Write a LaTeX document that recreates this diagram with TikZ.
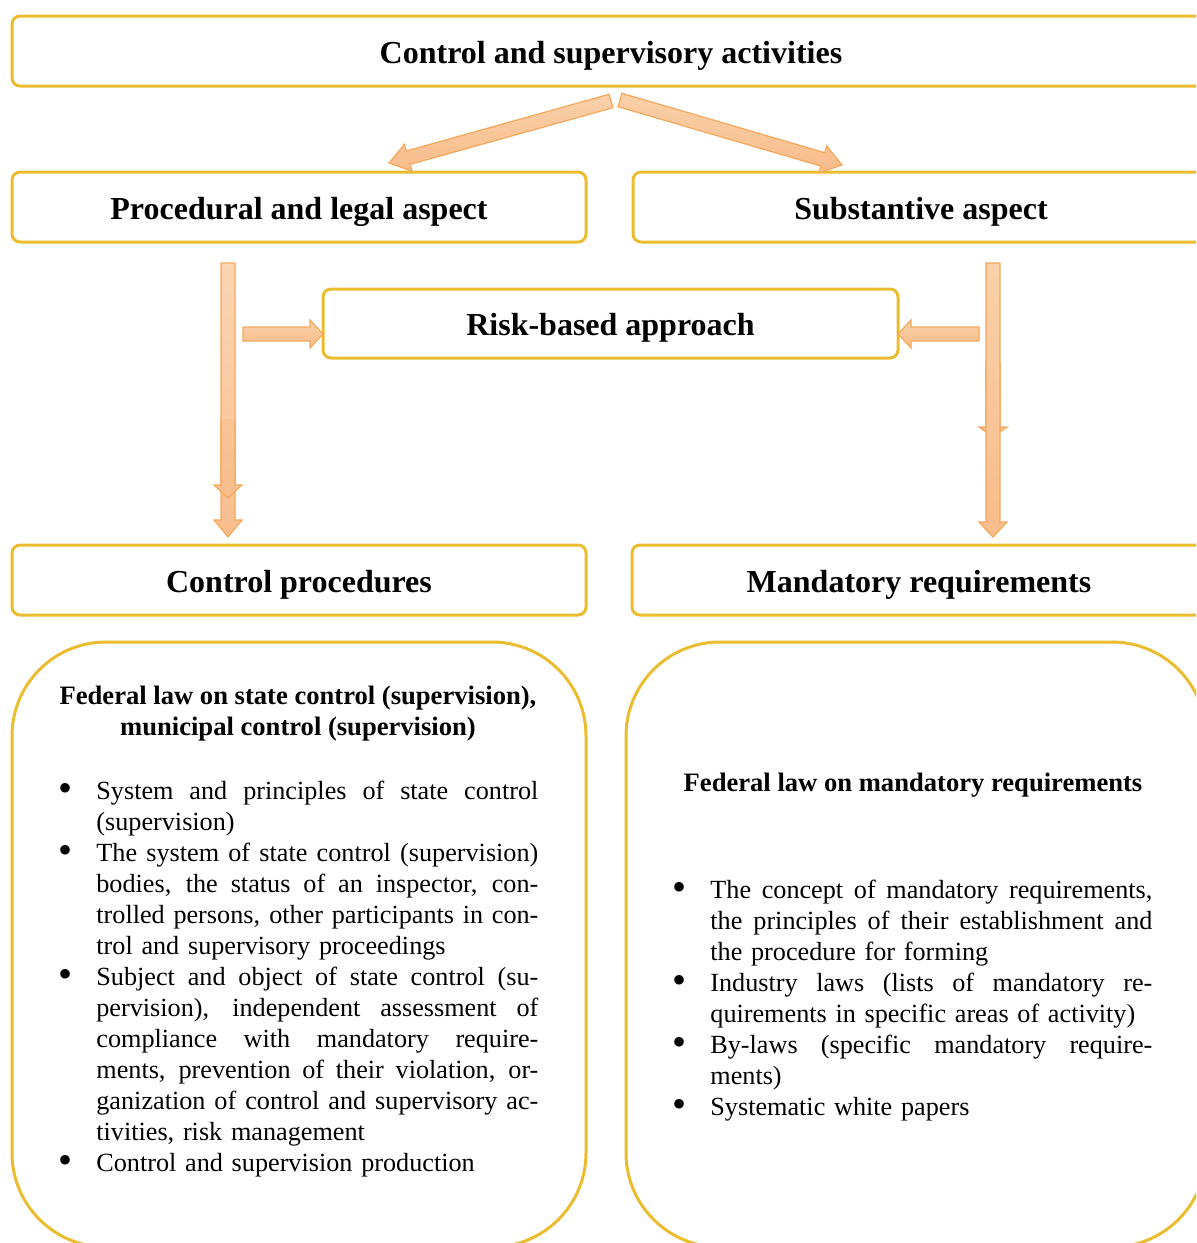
\documentclass[tikz,border=0pt]{standalone}
\usepackage{fontspec}
\setmainfont{Liberation Serif}
\usetikzlibrary{calc}
\definecolor{boxgold}{RGB}{234,189,48}
\definecolor{arrowline}{RGB}{244,168,92}
\definecolor{arrowtop}{RGB}{250,208,170}
\definecolor{arrowbot}{RGB}{248,188,138}
\tikzset{
  goldbox/.style={draw=boxgold, line width=1.5pt, rounded corners=4pt, inner sep=0pt,
    text height=12.4pt, text depth=0pt, font=\fontsize{16}{19}\selectfont\bfseries},
  lawbox/.style={draw=boxgold, line width=1.5pt, rounded corners=47pt},
  fatarrow/.style={draw=arrowline, line width=0.6pt, top color=arrowtop, bottom color=arrowbot, line join=miter},
}
\newcommand{\blockarrow}[4][]{%
  \coordinate (hb) at ($(#3)!#4!(#2)$);
  \path[fatarrow,#1] ($(#2)!3.5pt!90:(#3)$) -- ($(hb)!3.5pt!90:(#3)$) -- ($(hb)!7pt!90:(#3)$) -- (#3)
    -- ($(hb)!7pt!-90:(#3)$) -- ($(hb)!3.5pt!-90:(#3)$) -- ($(#2)!3.5pt!-90:(#3)$) -- cycle;}
\newenvironment{bulletlist}{\begin{list}{\raisebox{-0.15ex}{\fontsize{20}{0}\selectfont\textbullet}}{%
  \setlength{\leftmargin}{19.5pt}\setlength{\labelwidth}{8pt}\setlength{\labelsep}{12pt}%
  \setlength{\itemsep}{0pt}\setlength{\parsep}{0pt}\setlength{\topsep}{0pt}\setlength{\partopsep}{0pt}}}{\end{list}}
\newcommand{\jline}[1]{\leavevmode\hbox to 221pt{\spaceskip=3.3pt plus 1fil\relax #1}\\}

\begin{document}
\begin{tikzpicture}[x=0.5pt, y=-0.5pt, font=\fontsize{13.1}{15.5}\selectfont]
  \useasboundingbox (0,0) rectangle (1196,1243);
  \clip (0,0) rectangle (1196,1243);

  \node[goldbox, minimum width=599pt, minimum height=35pt] (ctrl)  at (611,51)    {Control and supervisory activities};
  \node[goldbox, minimum width=287pt, minimum height=35pt] (proc)  at (299,207)   {Procedural and legal aspect};
  \node[goldbox, minimum width=288pt, minimum height=35pt] (subst) at (921,207)   {Substantive aspect};
  \node[goldbox, minimum width=287.5pt, minimum height=34.5pt] (risk) at (610.5,323.5) {Risk-based approach};
  \node[goldbox, minimum width=287pt, minimum height=35pt] (cproc) at (299,580)   {Control procedures};
  \node[goldbox, minimum width=287pt, minimum height=35pt] (mreq)  at (919,580)   {Mandatory requirements};

  \node[lawbox, minimum width=287pt, minimum height=302.5pt] (lawL) at (299,944.5) {};
  \node[lawbox, minimum width=290pt, minimum height=302.5pt] (lawR) at (916,944.5) {};

  % arrows between the boxes
  \coordinate (splitL)  at (611,101);
  \coordinate (splitR)  at (620,100);
  \coordinate (procIn)  at (389,163);
  \coordinate (substIn) at (842,165);
  \blockarrow{splitL}{procIn}{10pt}
  \blockarrow{splitR}{substIn}{10pt}

  \coordinate (procOut)  at (228,263);
  \coordinate (procMid)  at (228,420);
  \coordinate (procEnd)  at (228,498);
  \coordinate (cprocIn)  at (228,537);
  \blockarrow{procMid}{cprocIn}{8.5pt}
  \blockarrow[fill opacity=0.9]{procOut}{procEnd}{6.5pt}

  \coordinate (substOut) at (993,263);
  \coordinate (substMid) at (993,363);
  \coordinate (substEnd) at (993,437);
  \coordinate (mreqIn)   at (993,537);
  \blockarrow{substMid}{substEnd}{5pt}
  \blockarrow{substOut}{mreqIn}{7.5pt}

  \coordinate (riskFromL) at (243,334);
  \coordinate (riskInL)   at (323,334);
  \coordinate (riskFromR) at (979,334);
  \coordinate (riskInR)   at (898,334);
  \blockarrow{riskFromL}{riskInL}{6.5pt}
  \blockarrow{riskFromR}{riskInR}{6.5pt}

  % contents of the two laws
  \node[font=\fontsize{13.3}{15.5}\selectfont\bfseries, align=center] (lawLhead) at (298,714)
    {Federal law on state control (supervision),\\ municipal control (supervision)};
  \node[anchor=north west, text width=240.5pt, inner sep=0pt] (lawLlist) at (57,768) {%
    \begin{bulletlist}
      \item \jline{System and principles of state control}(supervision)
      \item \jline{The system of state control (supervision)}\jline{bodies, the status of an inspector, con-}%
        \jline{trolled persons, other participants in con-}trol and supervisory proceedings
      \item \jline{Subject and object of state control (su-}\jline{pervision), independent assessment of}%
        \jline{compliance with mandatory require-}\jline{ments, prevention of their violation, or-}%
        \jline{ganization of control and supervisory ac-}tivities, risk management
      \item Control and supervision production
    \end{bulletlist}};

  \node[font=\fontsize{13.3}{15.5}\selectfont\bfseries] (lawRhead) at (913,785) {Federal law on mandatory requirements};
  \node[anchor=north west, text width=240.5pt, inner sep=0pt] (lawRlist) at (671,867) {%
    \begin{bulletlist}
      \item \jline{The concept of mandatory requirements,}\jline{the principles of their establishment and}%
        the procedure for forming
      \item \jline{Industry laws (lists of mandatory re-}quirements in specific areas of activity)
      \item \jline{By-laws (specific mandatory require-}ments)
      \item Systematic white papers
    \end{bulletlist}};
\end{tikzpicture}
\end{document}
